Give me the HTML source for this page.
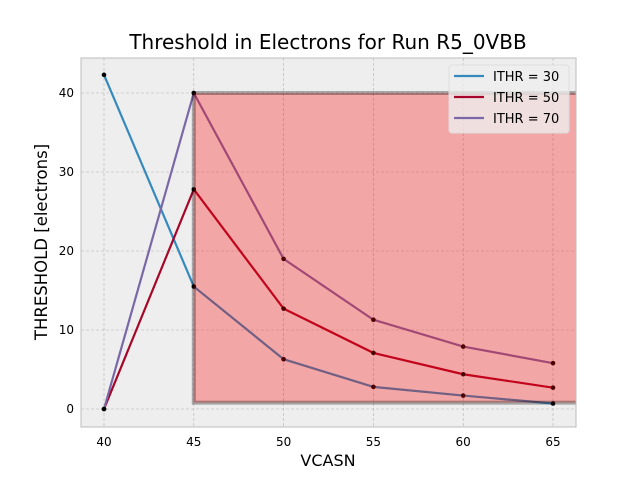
<!DOCTYPE html>
<html><head><meta charset="utf-8"><style>
body{margin:0;background:#fff;font-family:"DejaVu Sans","Liberation Sans",sans-serif;}
svg text{font-family:"DejaVu Sans","Liberation Sans",sans-serif;}
</style></head><body>
<svg id="chart" width="640" height="480" xmlns="http://www.w3.org/2000/svg">
<defs><clipPath id="clip"><rect x="81" y="58" width="495" height="369"/></clipPath></defs>
<rect x="0" y="0" width="640" height="480" fill="#fff"/>
<text x="328" y="49" font-size="20" text-anchor="middle" fill="#000">Threshold in Electrons for Run R5_0VBB</text>
<rect x="81" y="58" width="495" height="369" fill="#eeeeee"/>
<g id="grid"></g>
<g id="series" clip-path="url(#clip)"></g>
<g id="region" clip-path="url(#clip)"></g>
<g id="ticks"></g>
<rect x="81" y="58" width="495" height="369" fill="none" stroke="#bcbcbc" stroke-width="1"/>
<text x="328" y="466" font-size="16" text-anchor="middle">VCASN</text>
<text transform="translate(47,242) rotate(-90)" font-size="16.5" text-anchor="middle">THRESHOLD [electrons]</text>
<g>
<rect x="449" y="65" width="120" height="68" rx="3" fill="#eeeeee" fill-opacity="0.8" stroke="#ddd"/>
<line x1="454" y1="76" x2="484" y2="76" stroke="#348abd" stroke-width="2.2"/>
<text x="493" y="81" font-size="13">ITHR = 30</text>
<line x1="454" y1="97" x2="484" y2="97" stroke="#a60628" stroke-width="2.2"/>
<text x="493" y="102" font-size="13">ITHR = 50</text>
<line x1="454" y1="118" x2="484" y2="118" stroke="#7a68a6" stroke-width="2.2"/>
<text x="493" y="123" font-size="13">ITHR = 70</text>
</g>
</svg>
<script>
const vcasn=[40,45,50,55,60,65];
const ithr30=[42.3,15.5,6.3,2.8,1.7,0.7];
const ithr50=[0,27.8,12.7,7.1,4.4,2.7];
const ithr70=[0,40,19,11.3,7.9,5.8];
const seriesNames=['ithr-30','ithr-50','ithr-70'];
const xTicks=[40,45,50,55,60,65];
const yTicks=[0,10,20,30,40];
const region=[45,0.8,67,40];
const NS='http://www.w3.org/2000/svg';
const X=v=>104+(v-40)*17.96;
const Y=v=>409-v*7.9;
function mk(tag,attrs,parent){const e=document.createElementNS(NS,tag);for(const k in attrs)e.setAttribute(k,attrs[k]);parent.appendChild(e);return e;}
const grid=document.getElementById('grid'),ticks=document.getElementById('ticks'),ser=document.getElementById('series'),reg=document.getElementById('region');
xTicks.forEach(t=>{
 const g=mk('line',{x1:X(t),x2:X(t),y1:58,y2:427,stroke:'#b2b2b2','stroke-width':0.6,'stroke-dasharray':'3,2'},grid);
 
 
 const tx=mk('text',{x:X(t),y:446,'font-size':12,'text-anchor':'middle'},ticks);
 tx.textContent=t;
 
 
});
yTicks.forEach(t=>{
 const g=mk('line',{x1:81,x2:576,y1:Y(t),y2:Y(t),stroke:'#b2b2b2','stroke-width':0.6,'stroke-dasharray':'3,2'},grid);
 
 
 const tx=mk('text',{x:74,y:Y(t)+4,'font-size':12,'text-anchor':'end'},ticks);
 tx.textContent=t;
 
 
});
const colors=['#348abd','#a60628','#7a68a6'];
[ithr30,ithr50,ithr70].forEach((s,i)=>{
 const p=mk('polyline',{points:s.map((v,j)=>X(vcasn[j])+','+Y(v)).join(' '),fill:'none',stroke:colors[i],'stroke-width':2.2},ser);
 
 
 s.forEach((v,j)=>{
  const c=mk('circle',{cx:X(vcasn[j]),cy:Y(v),r:2.3,fill:'#000'},ser);
  
  
 });
});
const x0=X(region[0]),y0=Y(region[3]),w=X(region[2])-x0,h=Y(region[1])-y0;
const r=mk('rect',{x:x0,y:y0,width:w,height:h,fill:'rgba(255,0,0,0.3)',stroke:'rgba(0,0,0,0.3)','stroke-width':4},reg);


</script>
</body></html>
